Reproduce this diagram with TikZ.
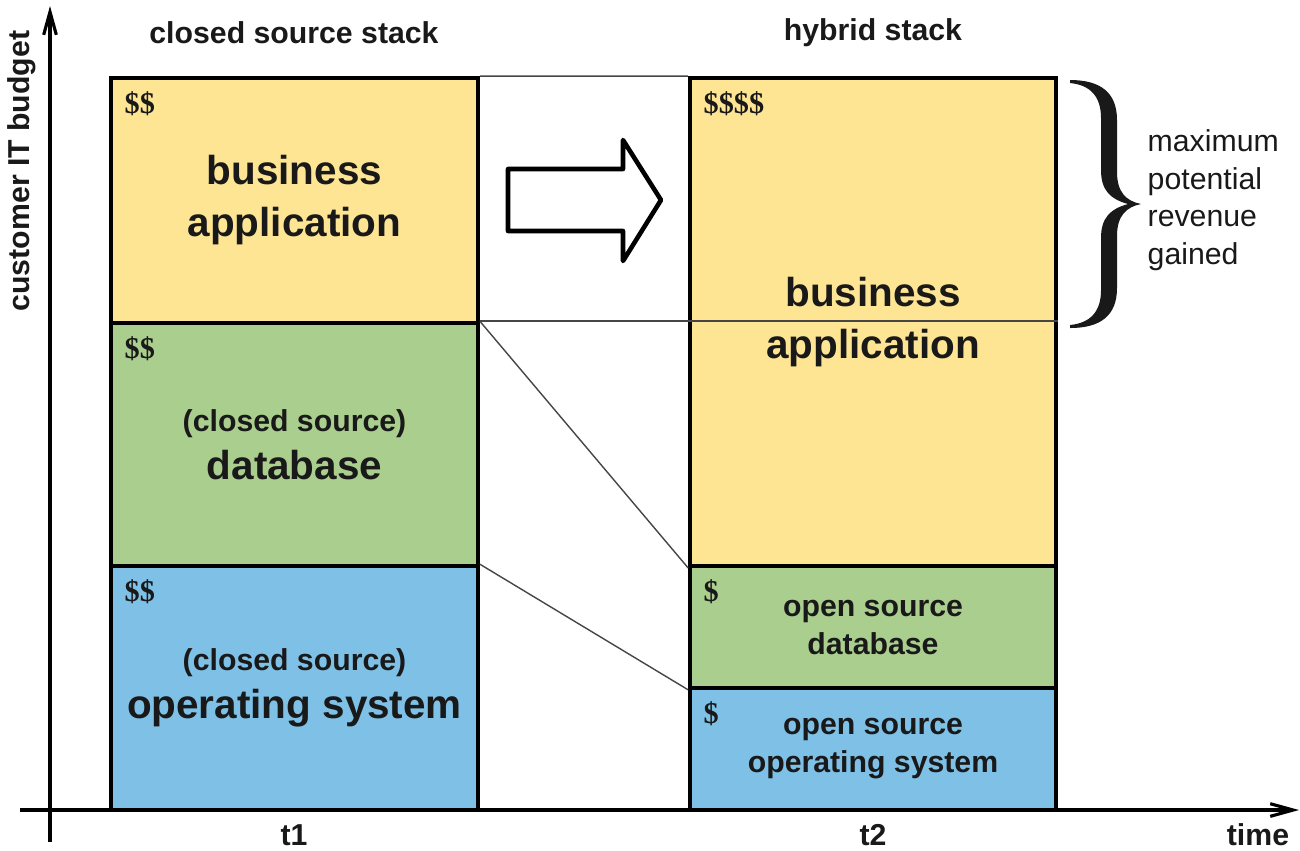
\documentclass[tikz,border=0pt]{standalone}
\usepackage{fontspec}
\setmainfont{Liberation Sans}
\newfontfamily\dollarfont{Liberation Serif}
\usepackage{tikz}
\usetikzlibrary{positioning, arrows.meta, calc}
\definecolor{ITYellow}{RGB}{254,229,148}
\definecolor{ITGreen}{RGB}{169,206,142}
\definecolor{ITBlue}{RGB}{126,192,230}
\definecolor{ITGray}{RGB}{70,70,70}
\newcommand{\bigtxt}{\fontsize{11.5}{14.8}\selectfont\bfseries}
\newcommand{\smalltxt}{\fontsize{8.6}{10.8}\selectfont\bfseries}

\begin{document}
\begin{tikzpicture}[x=0.01cm, y=-0.01cm,
          layer/.style={rectangle, draw=black, line width=1pt, inner sep=0pt,
                        align=center, font=\bigtxt, text=black!90},
          cost/.style={anchor=base west, inner sep=0pt, text=black!90,
                       font=\fontsize{8.6}{8.6}\selectfont\dollarfont\bfseries},
          heading/.style={inner sep=0pt, font=\smalltxt, text=black!90},
          link/.style={ITGray, line width=0.4pt},
          axis/.style={line width=0.9pt, -{Straight Barb[length=6.5pt, width=3.6pt]}}
        ]
        \useasboundingbox (0,0) rectangle (1300,850);

        % Axes
        \coordinate (yfrom) at (50,842);
        \coordinate (yto)   at (50,6);
        \coordinate (xfrom) at (20,810);
        \coordinate (xto)   at (1299,810);
        \draw[axis] (yfrom) -- (yto);
        \draw[axis] (xfrom) -- (xto);
        \node[heading, rotate=90] (ylab) at (22,171) {customer IT budget};
        \node[heading] (xlab) at (1258,835) {time};

        % Closed source stack
        \node[heading] (h1) at (294,33) {closed source stack};
        \node[layer, fill=ITYellow, minimum width=3.67cm, minimum height=2.45cm]
          (app1) at (294.5,200.5) {business\\application};
        \node[layer, fill=ITGreen, minimum width=3.67cm, minimum height=2.43cm]
          (db1) at (294.5,444.5) {{\smalltxt (closed source)}\\[-1.2pt]database};
        \node[layer, fill=ITBlue, minimum width=3.67cm, minimum height=2.44cm]
          (os1) at (294.5,688) {{\smalltxt (closed source)}\\[-1.2pt]operating system};
        \node[cost] (c1) at (124,113) {\$\$};
        \node[cost] (c2) at (124,358) {\$\$};
        \node[cost] (c3) at (124,601) {\$\$};
        \node[heading] (t1) at (294,835) {t1};

        % Hybrid stack
        \node[heading] (h2) at (873,33) {hybrid stack};
        \node[layer, fill=ITYellow, minimum width=3.66cm, minimum height=4.88cm]
          (app2) at (873,322) {business\\application};
        \node[layer, fill=ITGreen, minimum width=3.66cm, minimum height=1.22cm,
              font=\smalltxt] (db2) at (873,627) {open source\\database};
        \node[layer, fill=ITBlue, minimum width=3.66cm, minimum height=1.22cm,
              font=\smalltxt] (os2) at (873,749) {open source\\operating system};
        \node[cost] (c4) at (703,113) {\$\$\$\$};
        \node[cost] (c5) at (703,601) {\$};
        \node[cost] (c6) at (703,723) {\$};
        \node[heading] (t2) at (873,835) {t2};

        % Thin guide lines
        \coordinate (cut) at (app2.east |- db1.north east);
        \draw[link] (app1.north east) -- (app2.north west);
        \draw[link] (db1.north east) -- (cut);
        \draw[link] (db1.north east) -- (app2.south west);
        \draw[link] (os1.north east) -- (db2.south west);

        % Block arrow
        \draw[line width=1.3pt, line join=round, fill=white]
          (508,169) -- (623,169) -- (623,140) -- (661,200)
          -- (623,261) -- (623,231) -- (508,231) -- cycle;

        % Brace
        \fill[black!90] (1070,80) .. controls (1100,80) and (1117,92) .. (1117,120)
          -- (1117,172) .. controls (1117,192) and (1126,201) .. (1141,204)
          .. controls (1126,207) and (1117,216) .. (1117,236)
          -- (1117,288) .. controls (1117,316) and (1100,328) .. (1070,328)
          -- (1070,325) .. controls (1090,323) and (1101,312) .. (1101,290)
          -- (1101,238) .. controls (1101,218) and (1110,209) .. (1128,204)
          .. controls (1110,199) and (1101,190) .. (1101,170)
          -- (1101,118) .. controls (1101,96) and (1090,85) .. (1070,83) -- cycle;
        \node[anchor=west, inner sep=0pt, align=left, text=black!90,
              font=\fontsize{8.6}{10.7}\selectfont] (gain) at (1147,200)
          {maximum\\potential\\revenue\\gained};
      \end{tikzpicture}
\end{document}
